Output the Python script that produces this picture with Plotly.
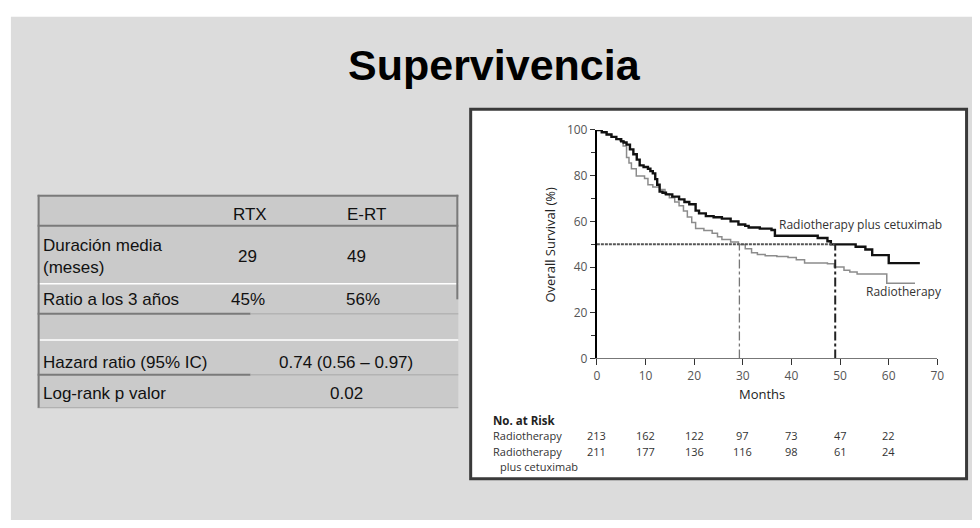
import plotly.graph_objects as go

W, H = 980, 528

# ---------------- data ----------------
title_text = "Supervivencia"

table_header = ["", "RTX", "E-RT"]
table_rows = [
    ["Duración media<br>(meses)", "29", "49"],
    ["Ratio a los 3 años", "45%", "56%"],
]
hazard_label = "Hazard ratio (95% IC)"
hazard_value = "0.74 (0.56 – 0.97)"
logrank_label = "Log-rank p valor"
logrank_value = "0.02"

# Kaplan-Meier steps (months, % survival)
cetux_t = [0, 1, 2, 3, 4, 5, 5.5, 6.1, 6.8, 7.5, 8.2, 8.8, 9.6, 10.5, 11.0, 11.5, 12.0, 12.4, 12.9,
           13.5, 14.2, 15.5, 16.9, 18.0, 19.0, 20.3, 21.0, 22.4, 24.0, 25.7, 27.5, 29.1, 30.5, 31.2,
           33.5, 35.9, 36.6, 44.4, 45.4, 47.4, 48.1, 53.2, 55.2, 56.6, 59.3, 60.0, 66.4]
cetux_s = [100, 99, 98, 97, 96, 95, 94.5, 93.6, 91.5, 89.4, 87, 84.5, 83.8, 83, 82, 81, 78.5, 76, 73,
           72.5, 71.8, 70.8, 69.6, 68.5, 67.5, 64.7, 63.5, 62.3, 61.8, 61.2, 60, 58.6, 58, 57.3,
           56.8, 56.2, 53.7, 53.7, 52.7, 51.3, 49.9, 48.9, 47.7, 45.2, 45.2, 41.7, 41.7]

rt_t = [0, 1, 2, 3, 4, 4.7, 5.4, 6.1, 6.6, 7.1, 8.1, 9.8, 10.5, 11.5, 12.9, 14.0, 14.9, 16.0, 16.9,
        17.8, 18.6, 19.5, 20.3, 22.0, 23.7, 24.8, 25.7, 27.5, 29.1, 30.5, 31.8, 33.0, 34.6, 37.0,
        39.3, 41.0, 42.7, 47.4, 48.8, 50.8, 52.0, 53.5, 58.6, 59.6, 65.4]
rt_s = [100, 99, 98, 97, 96, 95.3, 93, 88, 85.5, 83, 79.8, 78.8, 76, 75, 73.9, 72, 70.3, 68.5, 66.8,
        64.5, 61.9, 59.5, 56.9, 56, 54.8, 53.2, 52, 51, 49.9, 48, 46.3, 45.5, 44.9, 44.6,
        44.2, 43.2, 41.8, 41.4, 40, 38.6, 37.8, 36.9, 36.9, 32.9, 32.9]

median_rt = 29.3
median_cetux = 49.0

x_ticks = [0, 10, 20, 30, 40, 50, 60, 70]
y_ticks = [0, 20, 40, 60, 80, 100]

risk_months = [0, 10, 20, 30, 40, 50, 60]
risk_rt = [213, 162, 122, 97, 73, 47, 22]
risk_cetux = [211, 177, 136, 116, 98, 61, 24]

label_cetux = "Radiotherapy plus cetuximab"
label_rt = "Radiotherapy"

# ---------------- helpers ----------------
def px(x):
    return x / W

def py(y):
    return 1 - y / H

# plot area in pixels
PX0, PX1 = 600, 944
PY0, PY1 = 125, 361

fig = go.Figure()

fig.add_trace(go.Scatter(x=rt_t, y=rt_s, mode="lines", line=dict(color="#8c8c8c", width=1.5, shape="hv"),
                         showlegend=False, hoverinfo="skip"))
fig.add_trace(go.Scatter(x=cetux_t, y=cetux_s, mode="lines", line=dict(color="#111111", width=2.4, shape="hv"),
                         showlegend=False, hoverinfo="skip"))

# median lines
fig.add_trace(go.Scatter(x=[0, median_cetux], y=[50, 50], mode="lines",
                         line=dict(color="#555555", width=2, dash="3px,1px"), showlegend=False, hoverinfo="skip"))
fig.add_trace(go.Scatter(x=[median_rt, median_rt], y=[0, 50], mode="lines",
                         line=dict(color="#777777", width=1.3, dash="dashdot"), showlegend=False, hoverinfo="skip"))
fig.add_trace(go.Scatter(x=[median_cetux, median_cetux], y=[0, 50], mode="lines",
                         line=dict(color="#222222", width=2, dash="dashdot"), showlegend=False, hoverinfo="skip"))

shapes = []
# slide background
shapes.append(dict(type="rect", xref="paper", yref="paper", x0=px(8), x1=px(979), y0=py(528), y1=py(8),
                   fillcolor="#dcdcdc", line=dict(width=0), layer="below"))
# chart box
shapes.append(dict(type="rect", xref="paper", yref="paper", x0=px(472.5), x1=px(973.5), y0=py(485.5), y1=py(103.5),
                   fillcolor="#ffffff", line=dict(color="#3a3a3a", width=3), layer="below"))
# table background
TX0, TX1 = 35, 460
shapes.append(dict(type="rect", xref="paper", yref="paper", x0=px(TX0), x1=px(TX1), y0=py(412), y1=py(192),
                   fillcolor="#cacaca", line=dict(width=0), layer="below"))

def hline(y, x0, x1, color, w):
    shapes.append(dict(type="line", xref="paper", yref="paper", x0=px(x0), x1=px(x1), y0=py(y), y1=py(y),
                       line=dict(color=color, width=w), layer="below"))

def vline(x, y0, y1, color, w):
    shapes.append(dict(type="line", xref="paper", yref="paper", x0=px(x), x1=px(x), y0=py(y0), y1=py(y1),
                       line=dict(color=color, width=w), layer="below"))

hline(193, TX0, TX1, "#7a7a7a", 2)
hline(224, TX0, TX1, "#7a7a7a", 2)
hline(284, TX0, TX1, "#ffffff", 1.5)
hline(315, TX0, 250, "#7a7a7a", 2)
hline(315, 250, TX1, "#a8a8a8", 1)
hline(342, TX0 + 2, TX1, "#ffffff", 1.5)
hline(378, TX0, 250, "#7a7a7a", 2)
hline(378, 250, TX1, "#a8a8a8", 1)
hline(412, TX0, TX1, "#a8a8a8", 1)
vline(36, 192, 412, "#7a7a7a", 2)
vline(459, 192, 300, "#7a7a7a", 2)

annotations = []

def txt(x, y, s, size=18, color="#111111", xanchor="left", family="Liberation Sans, Arial, sans-serif",
        xref="paper", yref="paper", **kw):
    annotations.append(dict(x=x, y=y, xref=xref, yref=yref, text=s, showarrow=False, xanchor=xanchor,
                            yanchor="middle", font=dict(size=size, color=color, family=family), **kw))

# title
txt(px(497), py(58), "<b>" + title_text + "</b>", size=43, color="#000000", xanchor="center")

# table text
FONT_T = 17
COL1, COL2, VALC = 250, 367, 347
txt(px(COL1), py(212), table_header[1], size=FONT_T, xanchor="center")
txt(px(COL2), py(212), table_header[2], size=FONT_T, xanchor="center")
txt(px(38), py(256), table_rows[0][0], size=FONT_T, align="left")
txt(px(247), py(256), table_rows[0][1], size=FONT_T, xanchor="center")
txt(px(357), py(256), table_rows[0][2], size=FONT_T, xanchor="center")
txt(px(38), py(300), table_rows[1][0], size=FONT_T)
txt(px(248), py(300), table_rows[1][1], size=FONT_T, xanchor="center")
txt(px(364), py(300), table_rows[1][2], size=FONT_T, xanchor="center")
txt(px(38), py(365), hazard_label, size=FONT_T)
txt(px(VALC), py(365), hazard_value, size=FONT_T, xanchor="center")
txt(px(38), py(397), logrank_label, size=FONT_T)
txt(px(VALC), py(397), logrank_value, size=FONT_T, xanchor="center")

# curve labels
CF = "Open Sans, DejaVu Sans, sans-serif"
txt(px(951), py(223), label_cetux, size=12, color="#333333", xanchor="right", family=CF)
txt(px(951), py(292), label_rt, size=12, color="#333333", xanchor="right", family=CF)

# axis titles
txt(px(767), py(398), "Months", size=13, color="#222222", xanchor="center", family=CF)
annotations.append(dict(x=px(553), y=py(243), xref="paper", yref="paper", text="Overall Survival (%)",
                        showarrow=False, textangle=-90, xanchor="center", yanchor="middle",
                        font=dict(size=13, color="#222222", family=CF)))

# number at risk
RF = 11
txt(px(493), py(425), "<b>No. at Risk</b>", size=RF + 0.5, color="#222222", family=CF)
txt(px(493), py(441), "Radiotherapy", size=RF, color="#333333", family=CF)
txt(px(493), py(457), "Radiotherapy", size=RF, color="#333333", family=CF)
txt(px(500), py(473), "plus cetuximab", size=RF, color="#333333", family=CF)
for m, a, b in zip(risk_months, risk_rt, risk_cetux):
    txt(m, py(441), str(a), size=RF, color="#333333", xanchor="center", family=CF, xref="x")
    txt(m, py(457), str(b), size=RF, color="#333333", xanchor="center", family=CF, xref="x")

fig.update_layout(
    width=W, height=H, margin=dict(l=0, r=0, t=0, b=0),
    paper_bgcolor="#ffffff", plot_bgcolor="rgba(0,0,0,0)",
    shapes=shapes, annotations=annotations, showlegend=False,
    xaxis=dict(domain=[px(PX0), px(PX1)], range=[0, 70], tickvals=x_ticks, ticks="outside", ticklen=6,
               tickcolor="#333333", tickwidth=1.2, showgrid=False, zeroline=False, showline=True,
               linecolor="#777777", linewidth=1.2, tickfont=dict(size=12, color="#555555", family=CF),
               fixedrange=True),
    yaxis=dict(domain=[py(PY1), py(PY0)], range=[0, 100], tickvals=y_ticks, ticks="outside", ticklen=5,
               tickcolor="#333333", tickwidth=1.2, showgrid=False, zeroline=False, showline=True,
               linecolor="#000000", linewidth=2, tickfont=dict(size=12, color="#555555", family=CF),
               minor=dict(ticks="outside", dtick=10, ticklen=4, tickcolor="#333333", tickwidth=1),
               fixedrange=True),
)

fig.write_html("out.html")
